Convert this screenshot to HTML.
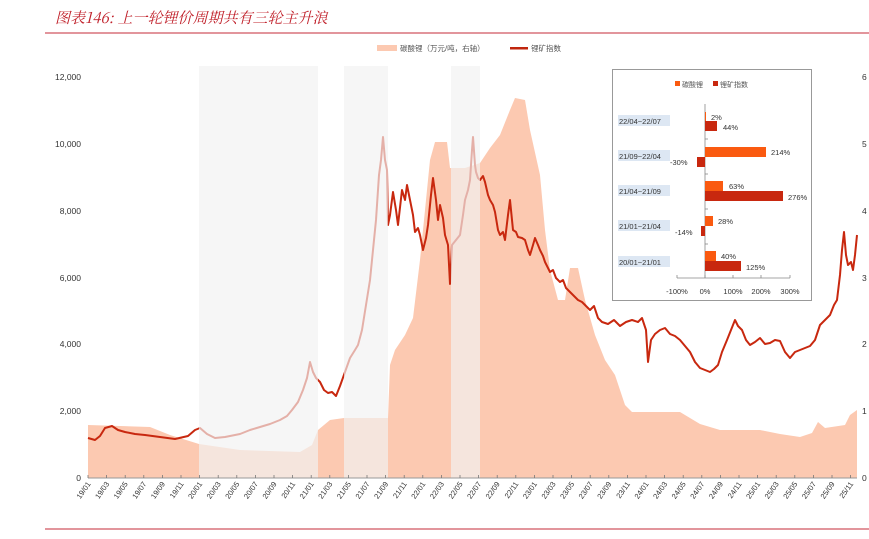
<!DOCTYPE html>
<html><head><meta charset="utf-8"><style>
body{margin:0;background:#fff;width:869px;height:534px;overflow:hidden;font-family:"Liberation Sans","Noto Sans CJK SC",sans-serif}
</style></head><body>
<svg width="869" height="534" viewBox="0 0 869 534" xmlns="http://www.w3.org/2000/svg" font-family="Liberation Sans, Noto Sans CJK SC, sans-serif">
<text x="55" y="23" font-size="15" font-style="italic" fill="#c0202a" font-family="Noto Serif CJK SC, serif">图表146: 上一轮锂价周期共有三轮主升浪</text>
<line x1="45" y1="33" x2="869" y2="33" stroke="#d9727b" stroke-width="1.5"/>
<rect x="377" y="45" width="20" height="6" fill="#fcc9b1"/>
<text x="400" y="51" font-size="7.5" fill="#555">碳酸锂（万元/吨，右轴）</text>
<rect x="510" y="47" width="18" height="2.5" fill="#c0260e"/>
<text x="531" y="51" font-size="7.5" fill="#555">锂矿指数</text>
<polygon fill="#fcc9b1" points="88,478 88,425 150,427 170,435 199,444 240,450 300,452 312,445 318,430 330,420 344,418 388,418 390,365 395,350 405,335 413,318 420,260 425,210 430,160 435,142 447,142 450,168 465,168 480,163 490,148 500,135 510,110 515,98 525,100 530,130 540,175 545,230 550,270 558,300 565,300 570,268 578,268 585,300 595,335 605,360 615,375 625,405 632,412 680,412 700,424 720,430 760,430 780,434 800,437 812,433 818,422 825,428 845,425 850,415 857,410 857,478"/>
<polyline fill="none" stroke="#c8280f" stroke-width="2" stroke-linejoin="round" points="88,438 95,440 100,436 105,428 112,426 118,430 125,432 135,434 145,435 160,437 175,439 188,436 195,430 200,428 207,434 215,438 225,437 240,434 250,430 260,427 270,424 280,420 287,416 292,410 298,402 303,390 307,378 310,362 313,372 316,378 320,382 324,390 328,393 332,392 336,396 340,386 345,372 350,358 355,350 358,345 362,330 366,305 370,280 373,250 376,220 379,175 381,160 383,137 385,160 387,170 388,225 390,215 393,192 396,210 398,225 402,190 405,200 407,185 410,200 413,215 415,232 418,228 420,235 423,250 426,238 428,225 431,195 433,178 436,200 438,220 440,205 443,218 445,235 448,245 450,284 452,245 456,240 460,235 463,215 465,200 468,190 470,180 472,150 473,137 475,165 476,172 478,178 480,180 483,176 485,182 488,195 490,200 493,205 495,212 498,230 500,235 503,232 505,240 508,215 510,200 513,230 516,232 518,237 522,238 525,240 528,250 530,255 533,245 535,238 538,245 540,250 543,256 545,262 548,268 550,272 553,270 556,278 560,282 563,280 566,288 570,292 574,296 578,300 582,302 586,306 590,310 594,306 598,318 602,322 608,324 614,320 620,326 626,322 632,320 638,322 642,318 646,330 648,362 651,340 655,334 660,330 665,328 670,334 675,336 680,340 685,346 690,352 695,362 700,368 705,370 710,372 714,369 718,365 722,352 727,340 731,330 735,320 738,326 742,330 746,340 750,345 755,342 760,338 765,344 770,343 775,340 780,341 785,352 790,358 795,352 800,350 805,348 810,346 815,340 820,325 825,320 830,315 834,305 837,300 840,275 842,250 844,232 846,255 848,265 851,262 853,270 855,255 857,235"/>
<rect x="199" y="66" width="119" height="412" fill="#f2f2f2" opacity="0.68"/>
<rect x="344" y="66" width="44" height="412" fill="#f2f2f2" opacity="0.68"/>
<rect x="451" y="66" width="29" height="412" fill="#f2f2f2" opacity="0.68"/>
<g font-size="8.5" fill="#333" text-anchor="end">
<text x="81" y="80">12,000</text><text x="81" y="147">10,000</text><text x="81" y="214">8,000</text><text x="81" y="281">6,000</text><text x="81" y="347">4,000</text><text x="81" y="414">2,000</text><text x="81" y="481">0</text>
</g>
<g font-size="8.5" fill="#333">
<text x="862" y="80">6</text><text x="862" y="147">5</text><text x="862" y="214">4</text><text x="862" y="281">3</text><text x="862" y="347">2</text><text x="862" y="414">1</text><text x="862" y="481">0</text>
</g>
<line x1="88" y1="478" x2="857" y2="478" stroke="#999" stroke-width="1"/>
<g stroke="#777" stroke-width="0.8" id="ticks"></g>
<g font-size="7.5" fill="#333" text-anchor="end" id="xl"></g>
<rect x="612.5" y="69.5" width="199" height="231" fill="#fff" stroke="#999"/>
<rect x="675" y="81" width="5" height="5" fill="#fa5a10"/><text x="682" y="87" font-size="7" fill="#555">碳酸锂</text>
<rect x="713" y="81" width="5" height="5" fill="#c8280f"/><text x="720" y="87" font-size="7" fill="#555">锂矿指数</text>
<line x1="705" y1="104" x2="705" y2="278" stroke="#888" stroke-width="0.8"/>
<line x1="677" y1="278" x2="790" y2="278" stroke="#888" stroke-width="0.8"/>
<g stroke="#888" stroke-width="0.8"><line x1="677" y1="278" x2="677" y2="275"/><line x1="705" y1="278" x2="705" y2="275"/><line x1="733" y1="278" x2="733" y2="275"/><line x1="761" y1="278" x2="761" y2="275"/><line x1="790" y1="278" x2="790" y2="275"/>
<line x1="705" y1="139" x2="708" y2="139"/><line x1="705" y1="174" x2="708" y2="174"/><line x1="705" y1="209" x2="708" y2="209"/><line x1="705" y1="244" x2="708" y2="244"/></g>
<g font-size="7.5" fill="#333" text-anchor="middle"><text x="677" y="294">-100%</text><text x="705" y="294">0%</text><text x="733" y="294">100%</text><text x="761" y="294">200%</text><text x="790" y="294">300%</text></g>
<g fill="#dde7f3"><rect x="618" y="115" width="52" height="11"/><rect x="618" y="150" width="52" height="11"/><rect x="618" y="185" width="52" height="11"/><rect x="618" y="220" width="52" height="11"/><rect x="618" y="256" width="52" height="11"/></g>
<g font-size="7.5" fill="#333"><text x="619" y="124">22/04~22/07</text><text x="619" y="159">21/09~22/04</text><text x="619" y="194">21/04~21/09</text><text x="619" y="229">21/01~21/04</text><text x="619" y="265">20/01~21/01</text></g>
<g fill="#fa5a10"><rect x="705" y="112" width="1" height="9"/><rect x="705" y="147" width="61" height="10"/><rect x="705" y="181" width="18" height="10"/><rect x="705" y="216" width="8" height="10"/><rect x="705" y="251" width="11" height="10"/></g>
<g fill="#c8280f"><rect x="705" y="121" width="12" height="10"/><rect x="697" y="157" width="8" height="10"/><rect x="705" y="191" width="78" height="10"/><rect x="701" y="226" width="4" height="10"/><rect x="705" y="261" width="36" height="10"/></g>
<g font-size="7.5" fill="#333"><text x="711" y="120">2%</text><text x="723" y="130">44%</text><text x="771" y="155">214%</text><text x="670" y="165">-30%</text><text x="729" y="189">63%</text><text x="788" y="200">276%</text><text x="718" y="224">28%</text><text x="675" y="235">-14%</text><text x="721" y="259">40%</text><text x="746" y="270">125%</text></g>
<line x1="45" y1="529" x2="869" y2="529" stroke="#d9727b" stroke-width="1.5"/>
<script>
var t=document.getElementById('ticks'),xl=document.getElementById('xl'),ns='http://www.w3.org/2000/svg';
for(var i=0;i<42;i++){var x=88+i*18.6;var y=19+Math.floor(i/6),m=(i%6)*2+1;
var l=document.createElementNS(ns,'line');l.setAttribute('x1',x);l.setAttribute('x2',x);l.setAttribute('y1',475);l.setAttribute('y2',478);t.appendChild(l);
var tx=document.createElementNS(ns,'text');tx.setAttribute('transform','translate('+(x+3)+',484) rotate(-55)');tx.textContent=y+'/'+(m<10?'0'+m:m);xl.appendChild(tx);}
</script>
</svg>
</body></html>
